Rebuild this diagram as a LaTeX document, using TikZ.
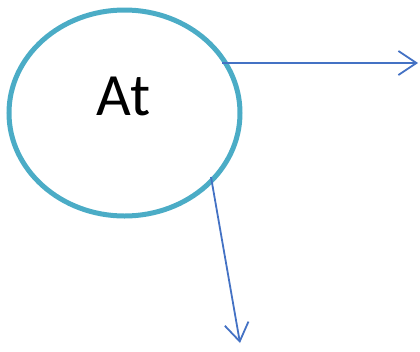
\documentclass[tikz,border=0pt]{standalone}
\usepackage{fontspec}
\setmainfont{Carlito}
\usepackage{tikz}
\usetikzlibrary{arrows.meta,shapes.geometric}
\definecolor{ringteal}{HTML}{4BACC6}
\definecolor{arrblue}{HTML}{4472C4}

\begin{document}
\begin{tikzpicture}[x=1pt,y=-1pt,
  ring/.style={draw=ringteal, ellipse, line width=5pt, minimum width=231pt, minimum height=206pt, inner sep=0pt},
  txt/.style={font=\fontsize{60}{72}\selectfont, inner sep=0pt},
  arr/.style={-{Straight Barb[length=18pt,width=24pt]}, draw=arrblue, line width=1.8pt}]
\path[use as bounding box] (0,0) rectangle (420,351);
\node[ring] (A) at (124.5,113) {};
\node[txt, anchor=base] (AT) at (123.5,115) {At};
\coordinate (A1) at (222,63);
\coordinate (A2) at (211,177);
\coordinate (R) at (418,63);
\coordinate (D) at (240,343);
\draw[arr] (A1) -- (R);
\draw[arr] (A2) -- (D);
\end{tikzpicture}
\end{document}
